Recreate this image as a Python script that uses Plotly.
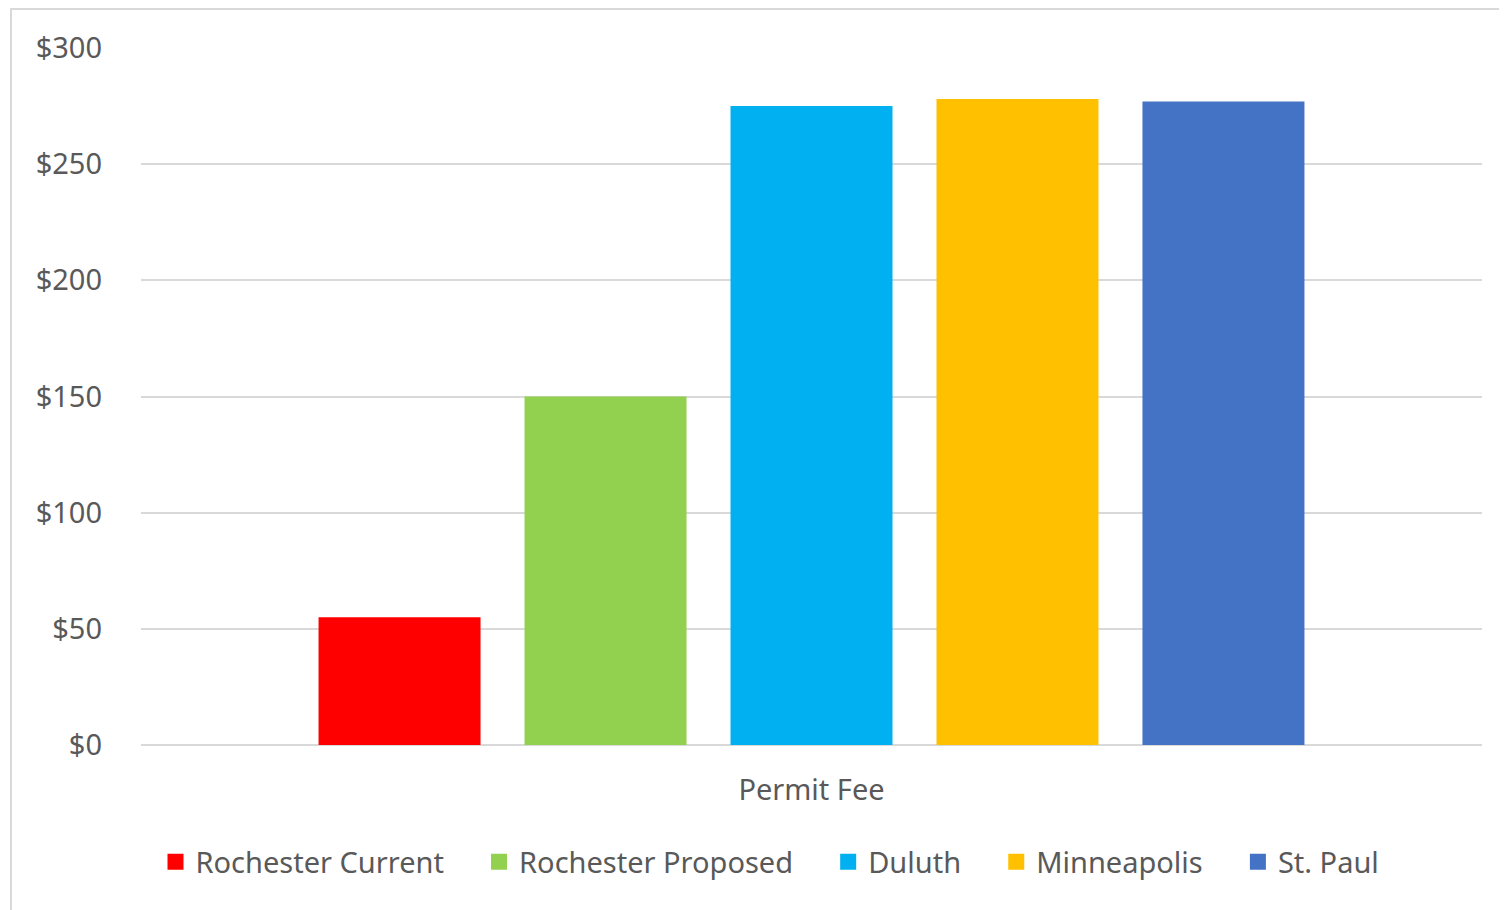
import plotly.graph_objects as go

categories = ["Permit Fee"]
series_names = ["Rochester Current", "Rochester Proposed", "Duluth", "Minneapolis", "St. Paul"]
series_values = [55, 150, 275, 278, 277]
series_colors = ["#FF0000", "#92D050", "#00B0F0", "#FFC000", "#4472C4"]
tick_vals = [0, 50, 100, 150, 200, 250, 300]
tick_text = ["$0", "$50", "$100", "$150", "$200", "$250", "$300"]

# page is offset by the browser's default 8px body margin
OFF = 8
W, H = 1507, 910
L, T = 141 - OFF, 48 - OFF
pw, ph = 1341, 697
R = W - L - pw
B = H - T - ph

fig = go.Figure()
pad = "\u00a0" * 4
for i, (name, val, col) in enumerate(zip(series_names, series_values, series_colors)):
    label = name + (pad if i < len(series_names) - 1 else "")
    fig.add_trace(go.Bar(x=categories, y=[val], name=name, legendgroup=name, showlegend=False,
                         marker=dict(color=col, line=dict(width=0))))
    # legend-only entry with a larger square swatch
    fig.add_trace(go.Scatter(x=[None], y=[None], mode="markers", name=label, legendgroup=name,
                             marker=dict(symbol="square", size=20, color=col), showlegend=True,
                             hoverinfo="skip"))

def px_x(p):
    return (p - OFF - L) / pw

def px_y(p):
    return (T + ph - (p - OFF)) / ph

font_family = "Noto Sans"
grey = "#595959"
fs = 29

fig.update_layout(
    width=W, height=H,
    margin=dict(l=L, r=R, t=T, b=B),
    paper_bgcolor="white", plot_bgcolor="white",
    barmode="group", bargap=0.232, bargroupgap=0.2136,
    font=dict(family=font_family, color=grey, size=fs),
    showlegend=True,
    legend=dict(orientation="h", x=px_x(770), xanchor="center", y=px_y(862), yanchor="middle",
                font=dict(size=fs, color=grey), itemwidth=30, traceorder="normal",
                itemsizing="trace"),
    xaxis=dict(type="category", showgrid=False, showline=False, zeroline=False, ticks="outside",
               ticklen=19, tickcolor="rgba(0,0,0,0)", tickfont=dict(size=fs, color=grey)),
    yaxis=dict(range=[0, 300], tickvals=tick_vals, ticktext=tick_text, showgrid=True,
               gridcolor="#D9D9D9", gridwidth=2, zeroline=True, zerolinecolor="#D9D9D9",
               zerolinewidth=2, showline=False, ticks="", ticklabelstandoff=38,
               tickfont=dict(size=fs, color=grey)),
    shapes=[dict(type="rect", xref="paper", yref="paper",
                 x0=px_x(11), x1=px_x(1504), y0=px_y(930), y1=px_y(9),
                 line=dict(color="#D9D9D9", width=2), fillcolor="rgba(0,0,0,0)", layer="below")],
)

fig.write_html("out.html")
